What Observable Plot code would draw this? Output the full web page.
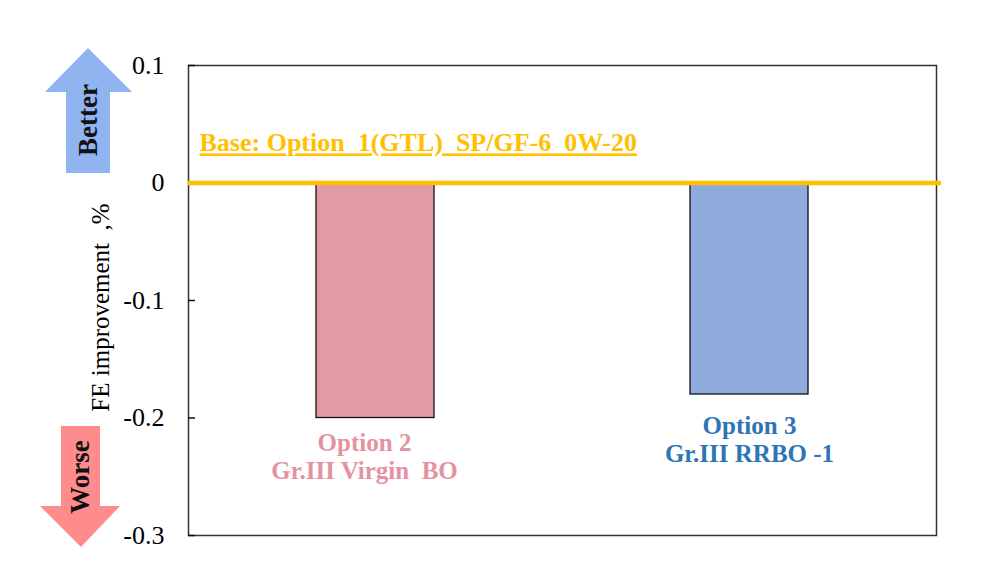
<!DOCTYPE html>
<html>
<head>
<meta charset="utf-8">
<script src="https://cdn.jsdelivr.net/npm/d3@7"></script>
<script src="https://cdn.jsdelivr.net/npm/@observablehq/plot@0.6"></script>
<style>
  html, body { margin: 0; padding: 0; background: #fff; }
  #chart { position: relative; width: 1000px; height: 565px; }
</style>
</head>
<body>
<div id="chart"></div>
<script>
const categories = ["Option 2", "Option 3"];
const values = [-0.2, -0.18];
const labelLine1 = ["Option 2", "Option 3"];
const labelLine2 = ["Gr.III Virgin  BO", "Gr.III RRBO -1"];
const barColors = ["#E29BA5", "#8FAADC"];
const labelColors = ["#E592A0", "#2E75B6"];
const yTicks = [-0.3, -0.2, -0.1, 0, 0.1];
const baseValue = 0;
const baseLabel = "Base: Option  1(GTL)  SP/GF-6  0W-20";
const baseLabelY = 0.034;
const yLabel = "FE improvement  ,%";

const data = categories.map((c, i) => ({
  cat: c, value: values[i], fill: barColors[i], color: labelColors[i],
  label: labelLine1[i] + "\n" + labelLine2[i]
}));

const serif = "'Liberation Serif', 'Times New Roman', serif";

const chart = Plot.plot({
  width: 1000,
  height: 565,
  marginLeft: 188,
  marginRight: 64,
  marginTop: 65,
  marginBottom: 30,
  style: { fontFamily: serif, fontSize: "26px", color: "#000", background: "#fff" },
  x: { domain: categories, paddingInner: 0.684, paddingOuter: 0.342, axis: null },
  y: { domain: [-0.3, 0.1] },
  marks: [
    Plot.barY(data, { x: "cat", y: "value", fill: "fill", stroke: "#111", strokeWidth: 1.3 }),
    Plot.frame({ stroke: "#333", strokeWidth: 1.5 }),
    Plot.axisY({
      ticks: yTicks, tickSize: -7, tickPadding: 31, tickFormat: d => d === 0 ? "0" : String(d),
      fontSize: 26, stroke: "#111", strokeWidth: 1.5,
      label: null
    }),
    Plot.text([yLabel], {
      frameAnchor: "left", text: d => d, rotate: -90, dx: -88, dy: 7,
      textAnchor: "middle", fontSize: 25, fill: "#000"
    }),
    Plot.ruleY([baseValue], { stroke: "#FFC000", strokeWidth: 4.5, insetRight: -5 }),
    Plot.text([baseLabel], {
      frameAnchor: "left", y: () => baseLabelY, text: d => d, dx: 11,
      textAnchor: "start", fill: "#FFC000", fontWeight: "bold", fontSize: 26
    }),
    Plot.text(data.filter(d => d.cat === "Option 2"), {
      x: "cat", y: "value", text: "label", fill: "color", fontWeight: "bold",
      fontSize: 25, lineAnchor: "top", dx: -11, dy: 13, lineHeight: 1.12
    }),
    Plot.text(data.filter(d => d.cat === "Option 3"), {
      x: "cat", y: "value", text: "label", fill: "color", fontWeight: "bold",
      fontSize: 25, lineAnchor: "top", dy: 20, lineHeight: 1.12
    })
  ]
});

const svg = d3.select(chart);
svg.selectAll("text").style("white-space", "pre");
svg.selectAll("text").filter(function() {
  return this.textContent.startsWith("Base:");
}).style("text-decoration", "underline");

// Better / Worse arrows
const g = svg.append("g");
g.append("path")
  .attr("d", "M88,48 L132,92 L110,92 L110,173 L66,173 L66,92 L45,92 Z")
  .attr("fill", "#8FB4F0");
g.append("text").attr("transform", "translate(88,120) rotate(-90)")
  .attr("text-anchor", "middle").attr("dy", "0.35em")
  .attr("font-family", serif).attr("font-weight", "bold").attr("font-size", 27)
  .attr("fill", "#111").text("Better");
g.append("path")
  .attr("d", "M61,426 L100,426 L100,506 L120,506 L81,547 L40,506 L61,506 Z")
  .attr("fill", "#FF8C8C");
g.append("text").attr("transform", "translate(80,477) rotate(-90)")
  .attr("text-anchor", "middle").attr("dy", "0.35em")
  .attr("font-family", serif).attr("font-weight", "bold").attr("font-size", 27)
  .attr("fill", "#111").text("Worse");

document.getElementById("chart").appendChild(chart);
</script>
</body>
</html>
